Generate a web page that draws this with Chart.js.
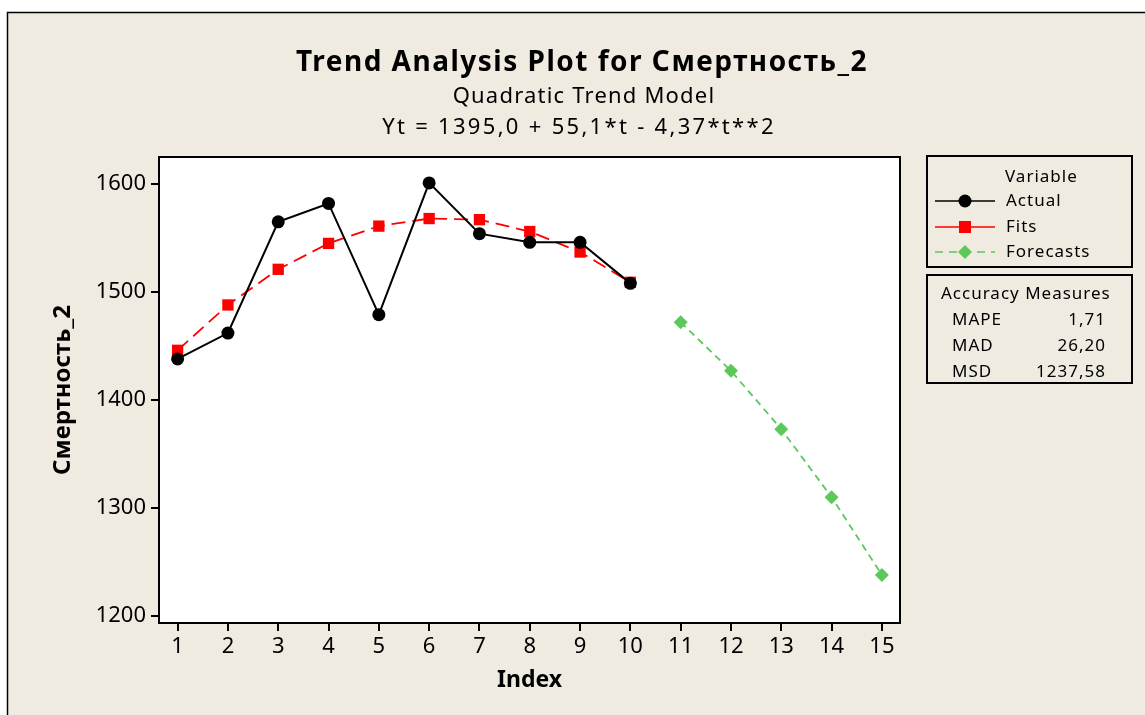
<!DOCTYPE html>
<html>
<head>
<meta charset="utf-8">
<script src="https://cdn.jsdelivr.net/npm/chart.js@4"></script>
<style>
  html, body { margin: 0; padding: 0; background: #ffffff; }
  #wrap { width: 1145px; height: 715px; position: relative; }
</style>
</head>
<body>
<div id="wrap"><canvas id="myChart" width="1145" height="715"></canvas></div>
<script>
// data
const indices = [1, 2, 3, 4, 5, 6, 7, 8, 9, 10]
const forecastIdx = [11, 12, 13, 14, 15]
const actual = [1438, 1462, 1565, 1582, 1479, 1601, 1554, 1546, 1546, 1508]
const fits = [1446, 1488, 1521, 1545, 1561, 1568, 1567, 1556, 1537, 1509]
const forecasts = [1472, 1427, 1373, 1310, 1238]
const yTicks = [1200, 1300, 1400, 1500, 1600]
const xTicks = [1, 2, 3, 4, 5, 6, 7, 8, 9, 10, 11, 12, 13, 14, 15]
const measureNames = ["MAPE", "MAD", "MSD"]
const measureValues = ["1,71", "26,20", "1237,58"]

const fontName = "'Noto Sans', 'DejaVu Sans', sans-serif"
const beige = "#efebe1"
const green = "#5cc85c"

const ctx = document.getElementById('myChart')

const toPoints = (xs, ys) => xs.map((x, i) => ({ x: x, y: ys[i] }))

const decor = {
  id: 'decor',
  beforeDraw(chart) {
    const c = chart.ctx
    const a = chart.chartArea
    c.save()
    c.fillStyle = "#ffffff"
    c.fillRect(0, 0, chart.width, chart.height)
    c.fillStyle = beige
    c.fillRect(7, 12, chart.width, chart.height)
    c.strokeStyle = "#000"
    c.lineWidth = 1.5
    c.beginPath()
    c.moveTo(7.5, chart.height)
    c.lineTo(7.5, 12.5)
    c.lineTo(chart.width, 12.5)
    c.stroke()
    c.fillStyle = "#ffffff"
    c.fillRect(a.left, a.top, a.right - a.left, a.bottom - a.top)
    c.restore()
  },
  afterDraw(chart) {
    const c = chart.ctx
    const a = chart.chartArea
    c.save()
    // plot frame
    c.strokeStyle = "#000"
    c.lineWidth = 2
    c.strokeRect(a.left, a.top, a.right - a.left, a.bottom - a.top)

    // titles
    c.fillStyle = "#000"
    c.textAlign = "center"
    c.textBaseline = "middle"
    c.font = "bold 28px " + fontName
    c.letterSpacing = "1.5px"
    c.fillText("Trend Analysis Plot for Смертность_2", 582, 63)
    c.font = "22px " + fontName
    c.letterSpacing = "1.2px"
    c.fillText("Quadratic Trend Model", 584, 97)
    c.letterSpacing = "2.3px"
    c.fillText("Yt = 1395,0 + 55,1*t - 4,37*t**2", 579, 128)

    // legend box
    c.lineWidth = 2
    c.strokeRect(927, 156, 205, 111)
    c.strokeRect(927, 275, 205, 108)
    c.font = "17px " + fontName
    c.letterSpacing = "1px"
    c.textAlign = "left"
    c.fillText("Variable", 1005, 177)
    const rows = [
      { label: "Actual", y: 201, color: "#000", dash: [], style: "circle" },
      { label: "Fits", y: 227, color: "#ff0000", dash: [], style: "rect" },
      { label: "Forecasts", y: 252, color: green, dash: [8, 6], style: "diamond" }
    ]
    rows.forEach(r => {
      c.strokeStyle = r.color
      c.fillStyle = r.color
      c.lineWidth = 1.5
      c.setLineDash(r.dash)
      c.beginPath()
      c.moveTo(935, r.y)
      c.lineTo(995, r.y)
      c.stroke()
      c.setLineDash([])
      c.beginPath()
      if (r.style === "circle") {
        c.arc(965, r.y, 6.5, 0, Math.PI * 2)
      } else if (r.style === "rect") {
        c.rect(959, r.y - 6, 12, 12)
      } else {
        c.moveTo(965, r.y - 7)
        c.lineTo(972, r.y)
        c.lineTo(965, r.y + 7)
        c.lineTo(958, r.y)
        c.closePath()
      }
      c.fill()
      c.fillStyle = "#000"
      c.fillText(r.label, 1006, r.y)
    })

    c.fillText("Accuracy Measures", 941, 294)
    measureNames.forEach((m, i) => {
      const y = 320 + i * 26
      c.textAlign = "left"
      c.fillText(m, 952, y)
      c.textAlign = "right"
      c.fillText(measureValues[i], 1106, y)
    })
    c.restore()
  }
}

const myChart = new Chart(ctx, {
  type: 'line',
  data: {
    datasets: [
      {
        label: 'Actual',
        data: toPoints(indices, actual),
        borderColor: "#000",
        backgroundColor: "#000",
        borderWidth: 2,
        pointStyle: 'circle',
        pointRadius: 6.5,
        pointBorderWidth: 0,
        order: 1
      },
      {
        label: 'Fits',
        data: toPoints(indices, fits),
        borderColor: "#ff0000",
        backgroundColor: "#ff0000",
        borderWidth: 1.8,
        borderDash: [14, 7],
        pointStyle: 'rect',
        pointRadius: 8,
        pointBorderWidth: 0,
        order: 2
      },
      {
        label: 'Forecasts',
        data: toPoints(forecastIdx, forecasts),
        borderColor: green,
        backgroundColor: green,
        borderWidth: 1.8,
        borderDash: [7, 5],
        pointStyle: 'rectRot',
        pointRadius: 7,
        pointBorderWidth: 0,
        order: 3
      }
    ]
  },
  options: {
    responsive: false,
    animation: false,
    layout: { padding: { left: 0, top: 157, right: 245, bottom: 0 } },
    plugins: {
      legend: { display: false },
      tooltip: { enabled: false },
      title: { display: false }
    },
    scales: {
      x: {
        type: 'linear',
        min: 0.63,
        max: 15.36,
        afterBuildTicks: s => { s.ticks = xTicks.map(v => ({ value: v })) },
        afterFit: s => { s.height = 92 },
        grid: { drawOnChartArea: false, drawTicks: true, tickLength: 8, color: "#000", lineWidth: 2 },
        border: { display: true, color: "#000", width: 2 },
        ticks: { color: "#000", padding: 3, maxRotation: 0, callback: v => String(v), font: { family: fontName, size: 22 } },
        title: { display: true, text: 'Index', color: "#000", padding: { top: 0, bottom: 21 }, font: { family: fontName, size: 23, weight: 'bold' } }
      },
      y: {
        min: 1193.5,
        max: 1625,
        afterBuildTicks: s => { s.ticks = yTicks.map(v => ({ value: v })) },
        afterFit: s => { s.width = 159 },
        grid: { drawOnChartArea: false, drawTicks: true, tickLength: 8, color: "#000", lineWidth: 2 },
        border: { display: true, color: "#000", width: 2 },
        ticks: { color: "#000", padding: 5, callback: v => String(v), font: { family: fontName, size: 22 } },
        title: { display: true, text: 'Смертность_2', color: "#000", padding: { top: 49, bottom: 0 }, font: { family: fontName, size: 24, weight: 'bold' } }
      }
    }
  },
  plugins: [decor]
})
</script>
</body>
</html>
